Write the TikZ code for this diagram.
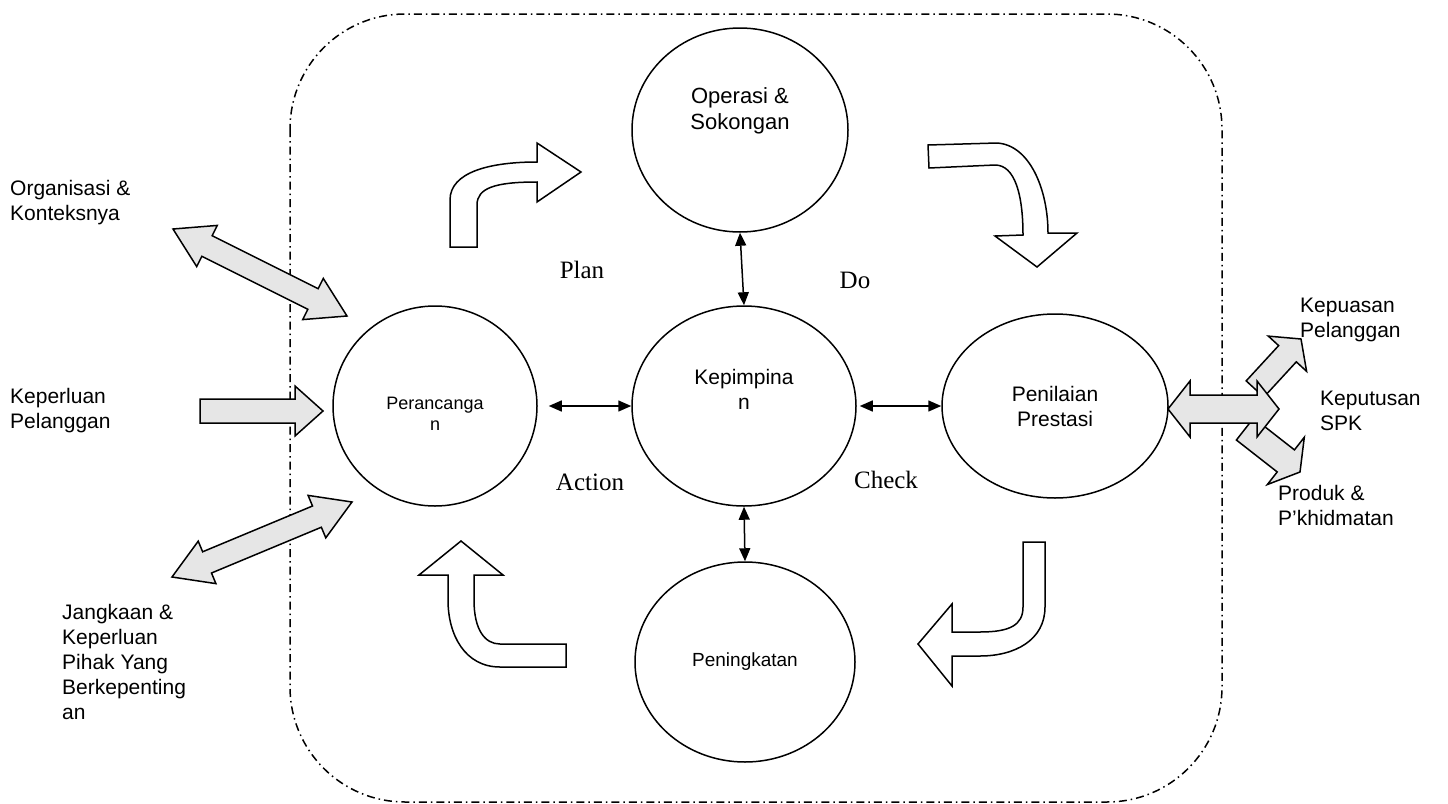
\documentclass[tikz,border=0pt]{standalone}
\usepackage{fontspec}
\setmainfont{Liberation Serif}
\setsansfont{Liberation Sans}
\usepackage{tikz}
\usetikzlibrary{shapes.geometric, calc, arrows.meta}
\definecolor{blockgrey}{RGB}{230, 230, 230}

% grey block arrow, two heads: tip a, tip b, head length, head half width, shaft half width
\newcommand{\dblblock}[5]{%
  \coordinate (ha) at ($(#1)!#3!(#2)$);
  \coordinate (hb) at ($(#2)!#3!(#1)$);
  \draw[greyblock] (#1) -- ($(ha)!#4!90:(#2)$) -- ($(ha)!#5!90:(#2)$)
    -- ($(hb)!#5!-90:(#1)$) -- ($(hb)!#4!-90:(#1)$) -- (#2)
    -- ($(hb)!#4!90:(#1)$) -- ($(hb)!#5!90:(#1)$)
    -- ($(ha)!#5!-90:(#2)$) -- ($(ha)!#4!-90:(#2)$) -- cycle;
}
% grey block arrow, one head: tail, tip, head length, head half width, shaft half width
\newcommand{\sglblock}[5]{%
  \coordinate (hb) at ($(#2)!#3!(#1)$);
  \draw[greyblock] ($(#1)!#5!90:(#2)$) -- ($(hb)!#5!-90:(#1)$)
    -- ($(hb)!#4!-90:(#1)$) -- (#2) -- ($(hb)!#4!90:(#1)$)
    -- ($(hb)!#5!90:(#1)$) -- ($(#1)!#5!-90:(#2)$) -- cycle;
}

\begin{document}
\begin{tikzpicture}[x=1pt, y=-1pt,
  phase/.style={ellipse, draw, line width=1.5pt, inner sep=0pt, align=center,
    font=\sffamily\fontsize{21}{25}\selectfont},
  sidetext/.style={align=left, anchor=west, inner sep=0pt,
    font=\sffamily\fontsize{21}{25}\selectfont},
  pdcalabel/.style={font=\fontsize{25}{30}\selectfont},
  smallarrow/.style={{Triangle[length=13pt,width=11pt]}-{Triangle[length=13pt,width=11pt]}, line width=1.5pt},
  whiteblock/.style={draw, fill=white, line width=1.5pt},
  greyblock/.style={draw, fill=blockgrey, line width=1.5pt}]
  \useasboundingbox (0,0) rectangle (1448,803);

  \draw[line width=1.5pt, dash pattern=on 8pt off 4pt on 1.5pt off 4pt,
        rounded corners=115pt] (290,14) rectangle (1222,802);

  \node[phase, minimum width=216pt, minimum height=204pt, text depth=42pt,
        font=\sffamily\fontsize{22}{26}\selectfont] (oper) at (740,130) {Operasi \&\\Sokongan};
  \node[phase, minimum width=224pt, minimum height=200pt, text depth=33pt] (kepim) at (744,406) {Kepimpina\\n};
  \node[phase, minimum width=204pt, minimum height=200pt, text height=48pt,
        font=\sffamily\fontsize{18}{21}\selectfont] (peranc) at (435,406) {Perancanga\\n};
  \node[phase, minimum width=226pt, minimum height=184pt] (penil) at (1055,406) {Penilaian\\Prestasi};
  \node[phase, minimum width=220pt, minimum height=200pt,
        font=\sffamily\fontsize{19}{22}\selectfont] (pening) at (745,662) {Peningkatan};

  \node[pdcalabel] (plan) at (582,270) {Plan};
  \node[pdcalabel] (do) at (855,280) {Do};
  \node[pdcalabel] (action) at (590,482) {Action};
  \node[pdcalabel] (check) at (886,480) {Check};

  \draw[smallarrow] ([xshift=11pt]peranc.east) -- (kepim.west);
  \draw[smallarrow] ([xshift=3pt]kepim.east) -- (penil.west);
  \draw[smallarrow] (oper.south) -- (kepim.north);
  \draw[smallarrow] (kepim.south) -- (pening.north);

  % cycle arrows
  \draw[whiteblock] (450,247) -- (450,200) .. controls (450,172) and (490,162) .. (537,162)
    -- (537,143) -- (581,172) -- (537,202) -- (537,182)
    .. controls (495,182) and (477,188) .. (477,205) -- (477,247) -- cycle;
  \draw[whiteblock] (928,145) -- (997,143) .. controls (1030,145) and (1048,190) .. (1048,233)
    -- (1077,233) -- (1037,267) -- (995,236) -- (1023,235)
    .. controls (1023,195) and (1015,165) .. (995,165) -- (929,168) -- cycle;
  \draw[whiteblock] (1023,542) -- (1045,542) -- (1045,607) .. controls (1045,640) and (1015,656) .. (980,656)
    -- (952,656) -- (952,686) -- (918,644) -- (952,604) -- (952,632) -- (980,632)
    .. controls (1010,632) and (1023,625) .. (1023,607) -- cycle;
  \draw[whiteblock] (461,541) -- (503,575) -- (474,575) -- (474,600)
    .. controls (474,630) and (485,644) .. (500,644) -- (566,644) -- (566,667) -- (500,667)
    .. controls (465,667) and (448,635) .. (448,600) -- (448,575) -- (419,575) -- cycle;

  % outside texts
  \node[sidetext] (org) at (10,203) {Organisasi \&\\Konteksnya};
  \node[sidetext] (keper) at (10,411) {Keperluan\\Pelanggan};
  \node[sidetext, anchor=north west] (jang) at (62,604)
       {Jangkaan \&\\Keperluan\\Pihak Yang\\Berkepenting\\an};
  \node[sidetext] (kepuasan) at (1300,320) {Kepuasan\\Pelanggan};
  \node[sidetext] (keputusan) at (1320,411) {Keputusan\\SPK};
  \node[sidetext] (produk) at (1278,505) {Produk \&\\P’khidmatan};

  \coordinate (org tip) at (173,229);
  \coordinate (org end) at (347,316);
  \coordinate (keper tail) at (200,411);
  \coordinate (keper tip) at (323,411);
  \coordinate (jang tip) at (172,577);
  \coordinate (jang end) at (352,502);
  \coordinate (out left) at (1168,409);
  \coordinate (out right) at (1279,409);
  \coordinate (puas tail) at (1255,389);
  \coordinate (puas tip) at (1301,339);
  \coordinate (prod tail) at (1245,429);
  \coordinate (prod tip) at (1300,472);

  \dblblock{org tip}{org end}{38pt}{23pt}{11.5pt}
  \sglblock{keper tail}{keper tip}{28pt}{25pt}{12pt}
  \dblblock{jang tip}{jang end}{38pt}{23pt}{11.5pt}
  \sglblock{puas tail}{puas tip}{20pt}{26pt}{12pt}
  \sglblock{prod tail}{prod tip}{18pt}{30pt}{14pt}
  \dblblock{out left}{out right}{22pt}{28pt}{14pt}
\end{tikzpicture}
\end{document}
